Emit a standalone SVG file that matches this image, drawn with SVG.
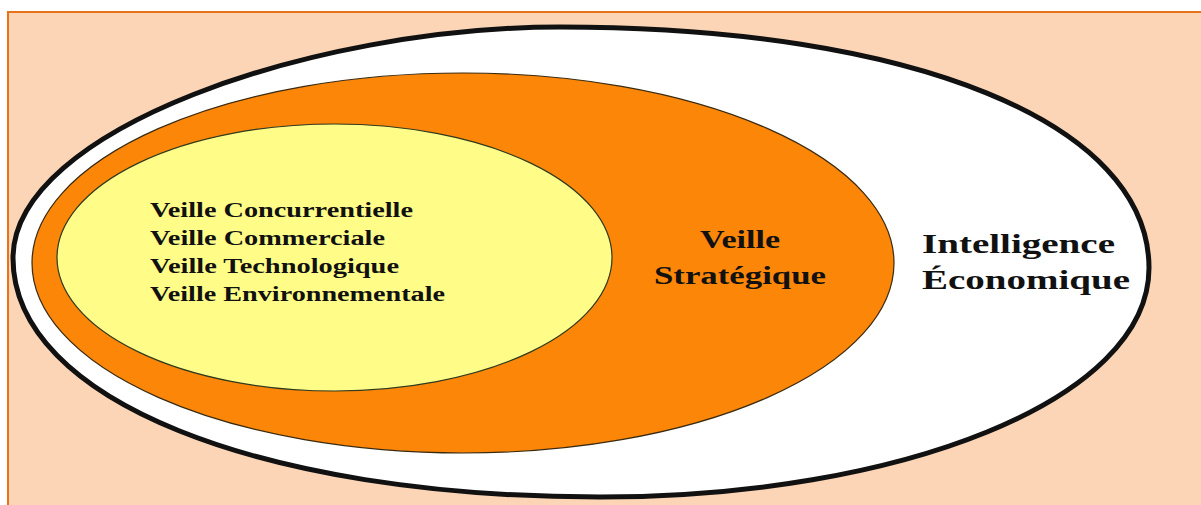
<svg xmlns="http://www.w3.org/2000/svg" width="1201" height="505" viewBox="0 0 1201 505">
  <style>
    .lbl { font-family: "Liberation Serif", "Times New Roman", serif; font-weight: bold; fill: #111; }
    .inner { font-size: 20px; }
    .mid { font-size: 25px; text-anchor: middle; }
    .outer { font-size: 28px; }
  </style>

  <!-- page background and frame -->
  <rect x="0" y="0" width="1201" height="505" fill="#ffffff"/>
  <rect x="8" y="12" width="1200" height="500" fill="#FBD5B5" stroke="#E7731A" stroke-width="2"/>

  <!-- Intelligence Économique (outermost) -->
  <g id="intelligence-economique">
    <path d="M13,258 C13,130 312,27 560,27 C913,27 1149,123 1149,268 C1149,400 900,497 600,497 C260,497 13,400 13,258 Z"
          fill="#ffffff" stroke="#111" stroke-width="5"/>
    <text class="lbl outer" x="922" y="253" textLength="193" lengthAdjust="spacingAndGlyphs">Intelligence</text>
    <text class="lbl outer" x="922" y="289" textLength="208" lengthAdjust="spacingAndGlyphs">Économique</text>
  </g>

  <!-- Veille Stratégique -->
  <g id="veille-strategique">
    <ellipse cx="463" cy="263" rx="431" ry="190" fill="#FC8608" stroke="#3a2a10" stroke-width="1.2"/>
    <text class="lbl mid" x="740" y="248" textLength="80" lengthAdjust="spacingAndGlyphs">Veille</text>
    <text class="lbl mid" x="740" y="284" textLength="172" lengthAdjust="spacingAndGlyphs">Stratégique</text>
  </g>

  <!-- Veilles spécialisées -->
  <g id="veilles">
    <ellipse cx="334.5" cy="257.5" rx="277.5" ry="133.5" fill="#FFFD88" stroke="#2f3a20" stroke-width="1.2"/>
    <text class="lbl inner" x="150" y="217" textLength="263" lengthAdjust="spacingAndGlyphs">Veille Concurrentielle</text>
    <text class="lbl inner" x="150" y="245" textLength="235" lengthAdjust="spacingAndGlyphs">Veille Commerciale</text>
    <text class="lbl inner" x="150" y="273" textLength="249" lengthAdjust="spacingAndGlyphs">Veille Technologique</text>
    <text class="lbl inner" x="150" y="301" textLength="295" lengthAdjust="spacingAndGlyphs">Veille Environnementale</text>
  </g>

  <g id="connectors"/>
</svg>
